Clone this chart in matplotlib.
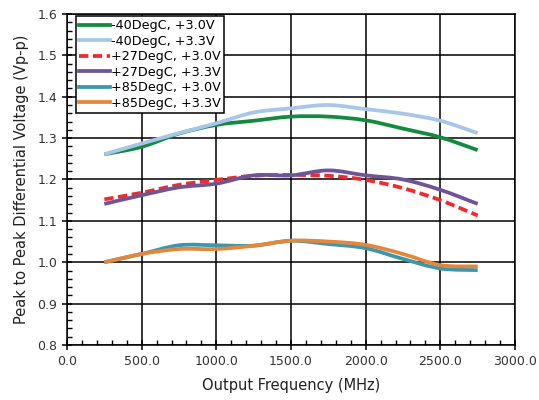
"""
Peak to peak differential voltage vs output frequency
"""
import numpy as np
import matplotlib
matplotlib.use("Agg")
import matplotlib.pyplot as plt
from matplotlib.path import Path
from matplotlib.patches import PathPatch
from matplotlib.lines import Line2D
from matplotlib.ticker import MultipleLocator, FormatStrFormatter

freq = [250, 500, 750, 1000, 1250, 1500, 1750, 2000, 2250, 2500, 2750]

m40_30 = [1.261, 1.279, 1.311, 1.332, 1.342, 1.352, 1.352, 1.343, 1.323, 1.302, 1.271]
m40_33 = [1.261, 1.287, 1.312, 1.336, 1.362, 1.372, 1.380, 1.370, 1.359, 1.342, 1.312]
p27_30 = [1.152, 1.168, 1.187, 1.199, 1.209, 1.211, 1.209, 1.199, 1.179, 1.150, 1.113]
p27_33 = [1.141, 1.162, 1.181, 1.190, 1.210, 1.210, 1.222, 1.210, 1.200, 1.175, 1.141]
p85_30 = [1.000, 1.020, 1.041, 1.041, 1.040, 1.052, 1.044, 1.034, 1.008, 0.985, 0.981]
p85_33 = [1.000, 1.020, 1.032, 1.032, 1.040, 1.052, 1.050, 1.042, 1.020, 0.993, 0.990]

labels = ["-40DegC, +3.0V", "-40DegC, +3.3V", "+27DegC, +3.0V",
          "+27DegC, +3.3V", "+85DegC, +3.0V", "+85DegC, +3.3V"]
colors = ["#138a3d", "#a8c5ea", "#f02a2e", "#6f5497", "#3a97ae", "#e5873a"]
styles = ["-", "-", (0, (2.5, 1.2)), "-", "-", "-"]


def smooth_path(x, y):
    # Excel style smoothed line: Catmull-Rom segments drawn as cubic beziers
    x = np.asarray(x, float)
    y = np.asarray(y, float)
    verts = [(x[0], y[0])]
    codes = [Path.MOVETO]
    n = len(x)
    for i in range(n - 1):
        i0 = max(i - 1, 0)
        i3 = min(i + 2, n - 1)
        c1 = (x[i] + (x[i + 1] - x[i0]) / 6, y[i] + (y[i + 1] - y[i0]) / 6)
        c2 = (x[i + 1] - (x[i3] - x[i]) / 6, y[i + 1] - (y[i3] - y[i]) / 6)
        verts += [c1, c2, (x[i + 1], y[i + 1])]
        codes += [Path.CURVE4, Path.CURVE4, Path.CURVE4]
    return Path(verts, codes)


def main():
    plt.rcParams["font.family"] = "DejaVu Sans"
    fig = plt.figure(figsize=(5.39, 4.0), dpi=100)
    ax = fig.add_axes([0.1243, 0.1375, 0.8312, 0.8275])

    series = [m40_30, m40_33, p27_30, p27_33, p85_30, p85_33]
    handles = []
    for vals, lab, col, ls in zip(series, labels, colors, styles):
        patch = PathPatch(smooth_path(freq, vals), fill=False, edgecolor=col,
                          linewidth=2.7, linestyle=ls, capstyle="butt", zorder=3)
        ax.add_patch(patch)
        handles.append(Line2D([], [], color=col, lw=2.7, ls=ls, label=lab))

    ax.set_xlim(0, 3000)
    ax.set_ylim(0.8, 1.6)
    ax.xaxis.set_major_locator(MultipleLocator(500))
    ax.xaxis.set_minor_locator(MultipleLocator(100))
    ax.yaxis.set_major_locator(MultipleLocator(0.1))
    ax.yaxis.set_minor_locator(MultipleLocator(0.02))
    ax.xaxis.set_major_formatter(FormatStrFormatter("%.1f"))
    ax.yaxis.set_major_formatter(FormatStrFormatter("%.1f"))
    ax.grid(True, which="major", color="black", linewidth=1.1, zorder=1)
    ax.set_axisbelow(True)
    ax.tick_params(which="major", direction="inout", length=7, width=1.1,
                   labelsize=9, colors="black", labelcolor="#333333")
    ax.tick_params(which="minor", direction="in", length=3.5, width=1.0)
    ax.tick_params(axis="x", pad=4)
    for sp in ax.spines.values():
        sp.set_linewidth(1.1)
        sp.set_color("black")

    ax.set_xlabel("Output Frequency (MHz)", fontsize=10.5, color="#222222", labelpad=7)
    ax.set_ylabel("Peak to Peak Differential Voltage (Vp-p)", fontsize=10.5,
                  color="#222222", labelpad=6)

    leg = ax.legend(handles=handles, loc="upper left", bbox_to_anchor=(0.02, 0.994),
                    fontsize=9.2, frameon=True, fancybox=False, handlelength=2.4,
                    handletextpad=0.1, borderpad=0.25, labelspacing=0.2,
                    borderaxespad=0.0)
    leg.get_frame().set_edgecolor("black")
    leg.get_frame().set_linewidth(1.1)
    leg.get_frame().set_alpha(1)
    leg.set_zorder(5)

    fig.savefig("out.png", dpi=100)
    plt.close(fig)


if __name__ == '__main__':
    main()
